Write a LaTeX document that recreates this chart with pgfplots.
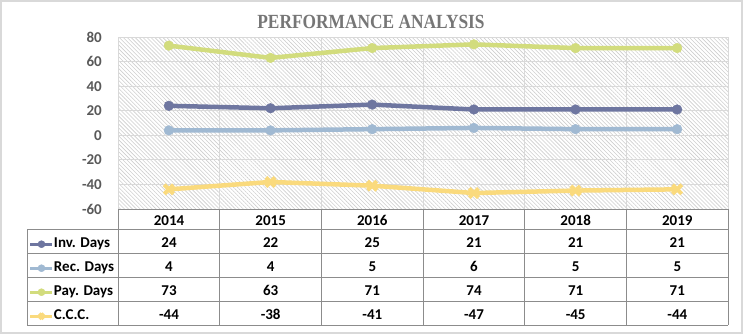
\documentclass[border=0pt]{standalone}
\usepackage{graphicx}
\usepackage{pgfplots}
\pgfplotsset{compat=1.18}
\usepackage{fontspec}
\setmainfont{Carlito}
\newfontfamily\titlefont{Liberation Serif}
\usetikzlibrary{patterns.meta}
\definecolor{invc}{RGB}{110,118,160}
\definecolor{recc}{RGB}{160,185,210}
\definecolor{payc}{RGB}{210,220,125}
\definecolor{cccc}{RGB}{250,218,125}
\definecolor{gridc}{RGB}{217,217,217}
\definecolor{tickc}{RGB}{89,89,89}
\definecolor{titlec}{RGB}{118,118,118}
\definecolor{tablec}{RGB}{140,140,140}
\newcommand{\tf}{\fontsize{15}{18}\selectfont\bfseries}
\begin{document}
\begin{tikzpicture}
\useasboundingbox (0,0) rectangle (743pt,-334pt);
\fill[white] (0,0) rectangle (743pt,-334pt);
\draw[gridc, line width=1.2pt] (1pt,-1pt) rectangle (742pt,-333pt);
\begin{axis}[
  at={(118pt,-209pt)}, anchor=south west,
  scale only axis, width=610pt, height=172pt,
  xmin=-0.5, xmax=5.5, ymin=-60, ymax=80,
  xtick={-0.5,0.5,...,5.5}, xticklabels={},
  ytick={-60,-40,...,80},
  major tick length=0pt,
  grid=major, major grid style={gridc, line width=0.8pt},
  axis line style={draw=none},
  axis background/.style={pattern={Lines[angle=-45,distance=2.8pt,line width=0.6pt]}, pattern color=gray!38},
  /pgf/number format/assume math mode=true,
  yticklabel style={font=\tf, text=tickc, anchor=east, inner sep=0pt, xshift=-16pt},
  legend image code/.code={\draw[mark repeat=2,mark phase=2,#1] plot coordinates {(0pt,0pt) (11pt,0pt) (22pt,0pt)};},
  legend image post style={line width=3pt, mark size=3.5pt},
  legend style={at={(-0.1459,-0.1669)}, anchor=north west, draw=none, fill=none, inner sep=0pt, outer sep=0pt, row sep=11pt, font=\tf, text=black, nodes={inner sep=0pt, outer sep=0pt, text height=10pt, text depth=3pt}, /tikz/every odd column/.append style={column sep=0pt}},
  legend cell align=left,
]
\addplot[invc, line width=4.5pt, mark=*, mark size=4.8pt, mark options={solid, fill=invc, line width=0.5pt}] coordinates {(0,24)(1,22)(2,25)(3,21)(4,21)(5,21)};
\addlegendentry{Inv. Days}
\addplot[recc, line width=4.5pt, mark=*, mark size=4.8pt, mark options={solid, fill=recc, line width=0.5pt}] coordinates {(0,4)(1,4)(2,5)(3,6)(4,5)(5,5)};
\addlegendentry{Rec. Days}
\addplot[payc, line width=4.5pt, mark=*, mark size=4.8pt, mark options={solid, fill=payc, line width=0.5pt}] coordinates {(0,73)(1,63)(2,71)(3,74)(4,71)(5,71)};
\addlegendentry{Pay. Days}
\addplot[cccc, line width=4.5pt, mark=x, mark size=6.5pt, mark options={solid, line width=4pt}] coordinates {(0,-44)(1,-38)(2,-41)(3,-47)(4,-45)(5,-44)};
\addlegendentry{C.C.C.}
\end{axis}
\begin{scope}[x=1pt,y=-1pt]
\node[anchor=base, inner sep=0pt, text=titlec] at (371,28.3) {\scalebox{1.02}[1.18]{\titlefont\fontsize{17}{20}\selectfont\bfseries PERFORMANCE ANALYSIS}};
\begin{scope}[draw=tablec, line width=1pt]
\draw (118,209) -- (728,209);
\foreach \y in {229,253,277,301,325} \draw (27,\y) -- (728,\y);
\draw (27,229) -- (27,325);
\foreach \i in {0,...,6} \draw ({118+\i*101.6667},209) -- ({118+\i*101.6667},325);
\end{scope}
\foreach \yr [count=\i from 0] in {2014,2015,2016,2017,2018,2019}
  \node[anchor=base, font=\tf, text=black, inner sep=0pt] at ({169+\i*101.6667},225.7) {\yr};
\foreach \vals/\yb in {{24,22,25,21,21,21}/247.7,{4,4,5,6,5,5}/271.7,{73,63,71,74,71,71}/295.7,{-44,-38,-41,-47,-45,-44}/319.7}{
  \foreach \v [count=\i from 0] in \vals
    \node[anchor=base, font=\tf, text=black, inner sep=0pt] at ({169+\i*101.6667},\yb) {\v};
}
\end{scope}
\end{tikzpicture}
\end{document}
